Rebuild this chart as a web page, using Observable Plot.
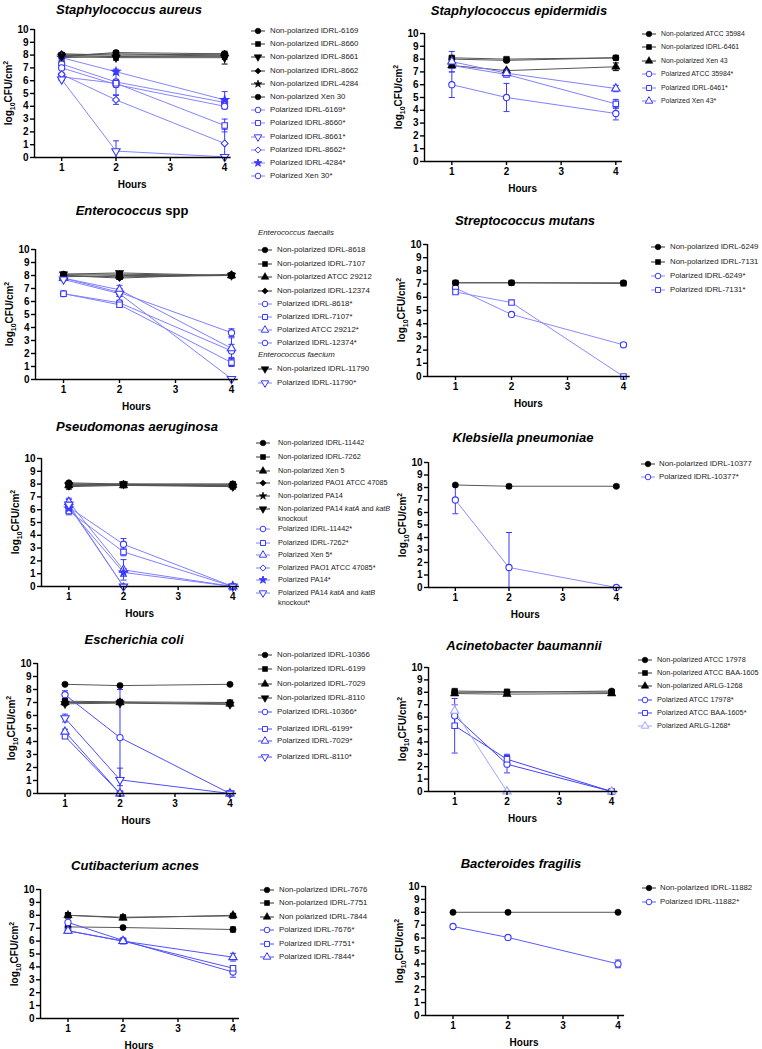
<!DOCTYPE html>
<html><head><meta charset="utf-8">
<script src="https://cdn.jsdelivr.net/npm/d3@7"></script>
<script src="https://cdn.jsdelivr.net/npm/@observablehq/plot@0.6"></script>
<style>
body{margin:0;background:#fff;}
#root{position:relative;width:762px;height:1049px;overflow:hidden;font-family:Arial,"Liberation Sans",sans-serif;color:#000;background:#fff}
.abs{position:absolute}
.title{font-weight:bold;font-style:italic;font-size:13px;white-space:nowrap;transform:translate(-50%,-50%)}
.title .up{font-style:normal}
.ylab{font-weight:bold;font-size:10px;white-space:nowrap;transform:translate(-50%,-50%) rotate(-90deg);line-height:10px}
.ylab sub,.ylab sup{font-size:7px;line-height:0}
.hours{font-weight:bold;font-size:10px;white-space:nowrap;transform:translate(-50%,-50%)}
.clip{position:absolute;left:0;top:0;height:1049px;overflow:hidden}
.leg{position:absolute;white-space:nowrap;display:flex;align-items:flex-start;line-height:10px;color:#222}
.leg svg{flex:none}
.hdr{position:absolute;font-style:italic;white-space:nowrap;line-height:10px;color:#222}
</style></head><body><div id="root"></div><script>
const hours = [1, 2, 4];

// ---- Staphylococcus aureus ----
const saNames = ["Non-polarized IDRL-6169","Non-polarized IDRL-8660","Non-polarized IDRL-8661","Non-polarized IDRL-8662","Non-polarized IDRL-4284","Non-polarized Xen 30","Polarized IDRL-6169*","Polarized IDRL-8660*","Polarized IDRL-8661*","Polarized IDRL-8662*","Polarized IDRL-4284*","Polarized Xen 30*"];
const saMean = [[8.0,7.9,8.0],[8.0,8.1,8.0],[7.9,7.8,7.8],[8.1,8.0,8.1],[7.8,7.9,7.9],[7.9,8.2,8.1],[7.3,5.9,4.3],[6.3,5.8,2.5],[6.1,0.5,0.05],[6.5,4.5,1.1],[7.8,6.7,4.5],[7.0,5.7,4.0]];
const saSD = [[0.1,0.1,0.1],[0.1,0.1,0.2],[0.1,0.2,0.5],[0.1,0.1,0.1],[0.1,0.1,0.1],[0.1,0.15,0.1],[0.1,0.2,0.3],[0.2,0.3,0.5],[0.1,0.8,0],[0.1,0.35,1.1],[0.1,0.2,0.65],[0.1,0.8,0.2]];

// ---- Staphylococcus epidermidis ----
const seNames = ["Non-polarized ATCC 35984","Non-polarized IDRL-6461","Non-polarized Xen 43","Polarized ATCC 35984*","Polarized IDRL-6461*","Polarized Xen 43*"];
const seMean = [[8.0,7.9,8.1],[8.1,8.0,8.1],[7.5,7.1,7.4],[6.0,5.0,3.75],[7.5,6.8,4.5],[7.8,6.9,5.7]];
const seSD = [[0.1,0.1,0.05],[0.1,0.1,0.05],[0.1,0.1,0.3],[1.0,1.1,0.5],[0.1,0.1,0.35],[0.8,0.1,0.25]];

// ---- Enterococcus spp ----
const enHeaders = ["Enterococcus faecalis","Enterococcus faecium"];
const enNames = ["Non-polarized IDRL-8618","Non-polarized IDRL-7107","Non-polarized ATCC 29212","Non-polarized IDRL-12374","Polarized IDRL-8618*","Polarized IDRL-7107*","Polarized ATCC 29212*","Polarized  IDRL-12374*","Non-polarized IDRL-11790","Polarized IDRL-11790*"];
const enMean = [[8.1,8.1,8.0],[8.0,7.9,8.0],[7.9,8.0,8.0],[8.0,7.8,8.1],[7.8,6.7,3.6],[6.6,5.75,1.3],[7.8,6.9,2.4],[6.6,5.9,2.2],[8.1,8.2,8.0],[7.7,6.6,0.05]];
const enSD = [[0.1,0.1,0.1],[0.1,0.2,0.1],[0.1,0.1,0.1],[0.1,0.1,0.1],[0.05,0.3,0.3],[0.1,0.2,0.3],[0.1,0.35,0.8],[0.1,0.2,0.5],[0.1,0.1,0.1],[0.1,0.2,0]];

// ---- Streptococcus mutans ----
const smNames = ["Non-polarized IDRL-6249","Non-polarized IDRL-7131","Polarized IDRL-6249*","Polarized IDRL-7131*"];
const smMean = [[7.1,7.1,7.1],[7.1,7.1,7.05],[6.7,4.7,2.4],[6.4,5.6,0.0]];
const smSD = [[0.1,0.05,0.05],[0.05,0.05,0.05],[0.1,0.1,0.15],[0.1,0.1,0]];

// ---- Pseudomonas aeruginosa ----
const paNames = ["Non-polarized IDRL-11442","Non-polarized IDRL-7262","Non-polarized Xen 5","Non-polarized PAO1 ATCC 47085","Non-polarized PA14","Non-polarized PA14 katA and katB knockout","Polarized IDRL-11442*","Polarized IDRL-7262*","Polarized Xen 5*","Polarized PAO1 ATCC 47085*","Polarized PA14*","Polarized PA14 katA and katB knockout*"];
const paMean = [[8.1,8.0,8.0],[8.0,8.0,8.0],[7.9,7.9,7.9],[7.8,7.9,7.8],[8.0,7.95,7.9],[7.9,8.0,7.8],[6.2,3.3,0],[5.9,2.7,0],[6.6,1.3,0],[6.3,0,0],[6.1,1.1,0],[6.4,0,0]];
const paSD = [[0.1,0.1,0.1],[0.1,0.1,0.1],[0.1,0.1,0.1],[0.2,0.1,0.1],[0.1,0.1,0.1],[0.2,0.1,0.2],[0.3,0.45,0],[0.3,0.3,0],[0.3,0.8,0],[0.2,0,0],[0.2,0.3,0],[0.4,0,0]];

// ---- Klebsiella pneumoniae ----
const kpNames = ["Non-polarized IDRL-10377","Polarized IDRL-10377*"];
const kpMean = [[8.2,8.1,8.1],[7.0,1.6,0]];
const kpSD = [[0,0.15,0.1],[1.1,2.8,0]];

// ---- Escherichia coli ----
const ecNames = ["Non-polarized IDRL-10366","Non-polarized IDRL-6199","Non-polarized IDRL-7029","Non-polarized IDRL-8110","Polarized IDRL-10366*","Polarized IDRL-6199*","Polarized IDRL-7029*","Polarized IDRL-8110*"];
const ecMean = [[8.4,8.3,8.4],[7.1,7.05,7.0],[7.0,7.0,6.9],[6.9,6.95,6.85],[7.6,4.3,0],[4.4,0,0],[4.75,0,0],[5.8,1.05,0]];
const ecSD = [[0.05,0.05,0.05],[0.1,0.1,0.1],[0.1,0.1,0.1],[0.1,0.1,0.1],[0.3,3.7,0],[0.15,0,0],[0.2,0,0],[0.3,0.9,0]];

// ---- Acinetobacter baumannii ----
const abNames = ["Non-polarized ATCC 17978","Non-polarized ATCC BAA-1605","Non-polarized ARLG-1268","Polarized ATCC 17978*","Polarized ATCC BAA-1605*","Polarized ARLG-1268*"];
const abMean = [[8.0,8.0,8.1],[8.1,8.05,8.0],[7.9,7.85,7.9],[6.1,2.2,0],[5.3,2.6,0],[6.5,0,0]];
const abSD = [[0.1,0.1,0.1],[0.1,0.1,0.1],[0.1,0.1,0.1],[0.9,0.7,0],[2.2,0.4,0],[0.5,0,0]];

// ---- Cutibacterium acnes ----
const caNames = ["Non-polarized IDRL-7676","Non-polarized IDRL-7751","Non polarized IDRL-7844","Polarized IDRL-7676*","Polarized IDRL-7751*","Polarized IDRL-7844*"];
const caMean = [[7.1,7.05,6.9],[8.0,7.85,7.95],[8.0,7.8,8.0],[7.45,6.05,3.6],[6.8,6.0,3.9],[6.8,6.0,4.75]];
const caSD = [[0.05,0.05,0.2],[0.2,0.15,0.1],[0.1,0.1,0.1],[0.1,0.1,0.4],[0.1,0.1,0.2],[0.1,0.1,0.3]];

// ---- Bacteroides fragilis ----
const bfNames = ["Non-polarized IDRL-11882","Polarized IDRL-11882*"];
const bfMean = [[8.0,8.0,8.0],[6.9,6.05,4.0]];
const bfSD = [[0,0.1,0],[0.15,0.05,0.3]];

// ---------------- styles & layout ----------------
const downTri = {draw(ctx,size){const y=-Math.sqrt(size/(Math.sqrt(3)*3));ctx.moveTo(0,-2*y);ctx.lineTo(-Math.sqrt(3)*y,y);ctx.lineTo(Math.sqrt(3)*y,y);ctx.closePath();}};
const capSym = {draw(ctx){ctx.moveTo(-3,0);ctx.lineTo(3,0);}};
const SYM = {circle:d3.symbolCircle, square:d3.symbolSquare, triangle:d3.symbolTriangle, diamond:(d3.symbolDiamond2||d3.symbolDiamond), star:d3.symbolStar, down:downTri};
const BLUE = "#3a3aff";

const panels = [
 {title:"Staphylococcus aureus", names:saNames, mean:saMean, sd:saSD,
  shapes:["circle","square","down","diamond","star","circle","circle","square","down","diamond","star","circle"],
  pLine:"#8585ff", x1:61,x4:224,y10:29,y0:157, tx:129,ty:9, symX:258,textX:270, lf:7.8,
  rows:d3.range(12).map(i=>31+13.2*i)},
 {title:"Staphylococcus epidermidis", names:seNames, mean:seMean, sd:seSD,
  shapes:["circle","square","triangle","circle","square","triangle"],
  pLine:"#8080ff", x1:451,x4:615,y10:33,y0:161, tx:519,ty:10, symX:649,textX:661, lf:6.9,
  rows:d3.range(6).map(i=>34+13.4*i)},
 {title:"<i>Enterococcus</i> <span class='up'>spp</span>", names:enNames, mean:enMean, sd:enSD,
  shapes:["circle","square","triangle","diamond","circle","square","triangle","circle","down","down"],
  pLine:"#8080ff", x1:63,x4:231,y10:249,y0:379, tx:132,ty:210, symX:265,textX:277, lf:7.8,
  rows:[250,263.5,277,290.5,304,317,330,342.5,369,383], headers:enHeaders, headerX:258, headerY:[233,355]},
 {title:"Streptococcus mutans", names:smNames, mean:smMean, sd:smSD,
  shapes:["circle","square","circle","square"],
  pLine:"#8a8aff", x1:455,x4:623,y10:244,y0:376, tx:525,ty:220, symX:658,textX:670, lf:7.8,
  rows:[247,261.5,276,290]},
 {title:"Pseudomonas aeruginosa", names:paNames, mean:paMean, sd:paSD,
  shapes:["circle","square","triangle","diamond","star","down","circle","square","triangle","diamond","star","down"],
  pLine:"#8080ff", x1:68,x4:232,y10:458,y0:586, tx:137,ty:426, symX:263,textX:278, lf:7.3,
  rows:[443,457,471,482.5,495.5,508.5,528.5,542.5,555,567.5,580,593]},
 {title:"Klebsiella pneumoniae", names:kpNames, mean:kpMean, sd:kpSD,
  shapes:["circle","circle"],
  pLine:"#8c8cff", x1:455,x4:616,y10:462,y0:587, tx:523,ty:437, symX:648,textX:659, lf:7.8,
  rows:[464,477]},
 {title:"Escherichia coli", names:ecNames, mean:ecMean, sd:ecSD,
  shapes:["circle","square","triangle","down","circle","square","triangle","down"],
  pLine:"#4d4dff", x1:64,x4:229,y10:663,y0:793, tx:134,ty:639, symX:265,textX:277, lf:7.8,
  rows:[654.5,669,683.5,698,712,729,741,757]},
 {title:"Acinetobacter baumannii", names:abNames, mean:abMean, sd:abSD,
  shapes:["circle","square","triangle","circle","square","triangle"],
  pLine:"#4040ff", over:{5:"#a4a4ff"}, x1:454,x4:611,y10:667,y0:791, tx:524,ty:645, symX:645,textX:657, lf:7.3,
  rows:d3.range(6).map(i=>660+13.2*i)},
 {title:"Cutibacterium acnes", names:caNames, mean:caMean, sd:caSD,
  shapes:["circle","square","triangle","circle","square","triangle"],
  pLine:"#5050ff", x1:67,x4:232,y10:889,y0:1018, tx:135,ty:865, symX:267,textX:279, lf:7.8,
  rows:d3.range(6).map(i=>890+13.4*i)},
 {title:"Bacteroides fragilis", names:bfNames, mean:bfMean, sd:bfSD,
  shapes:["circle","circle"],
  pLine:"#5a5aff", x1:452,x4:617,y10:886,y0:1015, tx:521,ty:863, symX:649,textX:660, lf:7.8,
  rows:[888,902]}
];

const root = document.getElementById("root");
function el(tag, cls, html, style){const e=document.createElement(tag); if(cls) e.className=cls; if(html!=null) e.innerHTML=html; Object.assign(e.style, style||{}); return e;}

function drawPanel(P){
  const rows=[];
  P.names.forEach((name,i)=>{
    const pol = !name.startsWith("Non");
    const over = P.over && P.over[i];
    const color = pol ? (over || BLUE) : "#000";
    const line = pol ? (over || P.pLine) : "#555";
    hours.forEach((h,j)=>rows.push({name,i,pol,hour:h,mean:P.mean[i][j],sd:P.sd[i][j],shape:P.shapes[i],color,line}));
  });
  const ppu=(P.x4-P.x1)/3, xMin=0.5, xMax=4.12;
  const axisX=P.x1-(1-xMin)*ppu, rightX=P.x4+(xMax-4)*ppu;
  const mL=30,mR=6,mT=7,mB=22;
  const width=rightX-axisX+mL+mR, height=P.y0-P.y10+mT+mB;
  const eb=rows.filter(d=>d.sd>0);
  const marks=[
    Plot.line(rows.filter(d=>!d.pol),{x:"hour",y:"mean",z:"name",stroke:"line",strokeWidth:1}),
    Plot.line(rows.filter(d=>d.pol),{x:"hour",y:"mean",z:"name",stroke:"line",strokeWidth:1}),
    Plot.ruleX(eb,{x:"hour",y1:d=>Math.max(0,d.mean-d.sd),y2:d=>d.mean+d.sd,stroke:"color",strokeWidth:1}),
    Plot.dot(eb,{x:"hour",y:d=>d.mean+d.sd,symbol:capSym,stroke:"color",fill:"none",strokeWidth:1}),
    Plot.dot(eb.filter(d=>d.mean-d.sd>0),{x:"hour",y:d=>d.mean-d.sd,symbol:capSym,stroke:"color",fill:"none",strokeWidth:1})
  ];
  for(const s of Object.keys(SYM)){
    const np=rows.filter(d=>d.shape===s&&!d.pol), pp=rows.filter(d=>d.shape===s&&d.pol);
    const r = s==="star"?2.6:3.1;
    if(np.length) marks.push(Plot.dot(np,{x:"hour",y:"mean",symbol:SYM[s],r,fill:"#000",stroke:"#000",strokeWidth:0.6}));
    if(pp.length) marks.push(Plot.dot(pp,{x:"hour",y:"mean",symbol:SYM[s],r,fill:s==="star"?"color":"white",stroke:"color",strokeWidth:1.1}));
  }
  marks.push(
    Plot.ruleX([xMin],{y1:0,y2:10,stroke:"#000",strokeWidth:1.4}),
    Plot.ruleY([0],{x1:xMin,x2:xMax,stroke:"#000",strokeWidth:1.4}),
    Plot.axisY(d3.range(0,11),{tickSize:4,tickPadding:2,label:null,fontWeight:"bold",fontSize:10,strokeWidth:1.4}),
    Plot.axisX([1,2,3,4],{tickSize:4,tickPadding:2,label:null,fontWeight:"bold",fontSize:10,strokeWidth:1.4})
  );
  const svg=Plot.plot({width,height,marginLeft:mL,marginRight:mR,marginTop:mT,marginBottom:mB,
    x:{domain:[xMin,xMax]}, y:{domain:[0,10]}, color:{type:"identity"},
    style:{fontFamily:"Arial,'Liberation Sans',sans-serif",fontSize:"10px",color:"#000",background:"transparent",overflow:"visible"},
    marks});
  svg.style.position="absolute"; svg.style.left=(axisX-mL)+"px"; svg.style.top=(P.y10-mT)+"px";
  root.appendChild(svg);
  // title, axis labels
  root.appendChild(el("div","abs title",P.title,{left:P.tx+"px",top:P.ty+"px"}));
  root.appendChild(el("div","abs ylab","log<sub>10</sub>CFU/cm<sup>2</sup>",{left:(axisX-25)+"px",top:((P.y0+P.y10)/2)+"px"}));
  root.appendChild(el("div","abs hours","Hours",{left:((axisX+rightX)/2)+"px",top:(P.y0+27)+"px"}));
  // legend
  if(P.headers) P.headers.forEach((h,k)=>root.appendChild(el("div","hdr",h,{left:P.headerX+"px",top:(P.headerY[k]-5)+"px",fontSize:P.lf+"px"})));
  P.names.forEach((name,i)=>{
    const pol=!name.startsWith("Non");
    const over=P.over&&P.over[i];
    const color=pol?(over||BLUE):"#000", line=pol?(over||P.pLine):"#333";
    const w=P.textX-P.symX+7;
    const s=P.shapes[i];
    const r=s==="star"?2.4:2.8;
    const path=d3.symbol(SYM[s], Math.PI*r*r)();
    const fill=pol?(s==="star"?color:"white"):"#000";
    const sw=`<svg width="${w}" height="10"><line x1="0" x2="14" y1="5" y2="5" stroke="${line}" stroke-width="1"/><path d="${path}" transform="translate(7,5)" fill="${fill}" stroke="${color}" stroke-width="${pol?1:0.6}"/></svg>`;
    const label=name.replace(/\b(kat[AB])\b/g,"<i>$1</i>").replace(" knockout","<br>knockout");
    root.appendChild(el("div","leg",sw+"<span>"+label+"</span>",{left:(P.symX-7)+"px",top:(P.rows[i]-5)+"px",fontSize:P.lf+"px"}));
  });
}
panels.forEach(drawPanel);
</script></body></html>
